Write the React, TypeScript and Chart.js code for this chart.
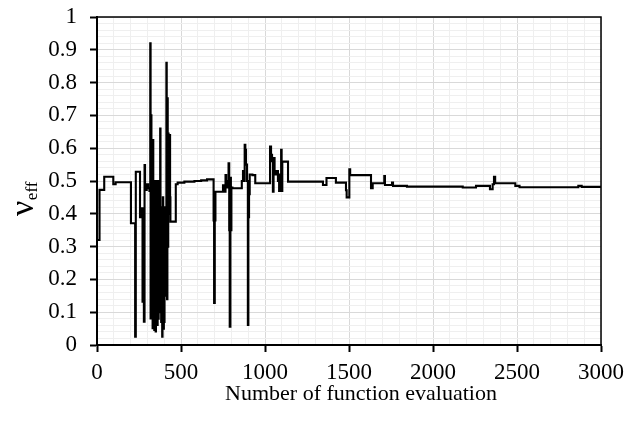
import React, { useEffect, useRef } from "react";
import { Chart, registerables } from "chart.js";

Chart.register(...registerables);

// Number of function evaluations (step start positions)
const evalX = [
  0, 15, 43, 97, 111, 202, 227, 231, 256, 268, 271, 275, 279, 283, 286, 296, 304, 312,
  317, 319, 322, 324, 326, 328, 331, 333, 335, 337, 339, 341, 343, 345, 347, 349, 351,
  353, 355, 357, 359, 361, 363, 365, 367, 369, 371, 373, 376, 378, 380, 382, 384, 386,
  388, 390, 392, 394, 396, 398, 400, 402, 404, 406, 408, 410, 413, 415, 417, 419, 421,
  424, 426, 428, 430, 433, 435, 437, 469, 480, 520, 580, 620, 655, 694, 697, 701, 705,
  750, 758, 765, 769, 775, 783, 787, 790, 794, 797, 800, 806, 862, 869, 875, 879, 883,
  887, 893, 898, 901, 905, 909, 925, 942, 1030, 1036, 1042, 1047, 1051, 1057, 1065,
  1077, 1084, 1089, 1096, 1099, 1103, 1137, 1345, 1366, 1422, 1482, 1486, 1502, 1507,
  1631, 1641, 1710, 1714, 1756, 1762, 1845, 2177, 2256, 2339, 2355, 2363, 2370, 2490,
  2515, 2865, 2885, 3000,
];

// Effective value (nu_eff) at each step
const nuEff = [
  0.32, 0.473, 0.513, 0.49, 0.496, 0.371, 0.025, 0.528, 0.39, 0.417, 0.132, 0.3, 0.071,
  0.549, 0.473, 0.49, 0.478, 0.47, 0.92, 0.081, 0.7, 0.3, 0.42, 0.09, 0.051, 0.625,
  0.35, 0.2, 0.5, 0.046, 0.4, 0.357, 0.12, 0.041, 0.45, 0.5, 0.18, 0.36, 0.061, 0.42,
  0.5, 0.08, 0.25, 0.48, 0.1, 0.4, 0.66, 0.2, 0.3, 0.07, 0.12, 0.42, 0.025, 0.3, 0.45,
  0.2, 0.05, 0.35, 0.07, 0.42, 0.3, 0.15, 0.4, 0.25, 0.86, 0.5, 0.14, 0.752, 0.3, 0.645,
  0.45, 0.62, 0.4, 0.64, 0.45, 0.376, 0.49, 0.495, 0.498, 0.5, 0.502, 0.505, 0.38,
  0.128, 0.38, 0.467, 0.487, 0.467, 0.518, 0.48, 0.5, 0.554, 0.35, 0.056, 0.51, 0.35,
  0.48, 0.478, 0.5, 0.53, 0.5, 0.61, 0.595, 0.55, 0.5, 0.061, 0.39, 0.46, 0.52, 0.518,
  0.493, 0.605, 0.58, 0.56, 0.467, 0.57, 0.52, 0.53, 0.5, 0.47, 0.52, 0.595, 0.47,
  0.559, 0.498, 0.488, 0.509, 0.495, 0.472, 0.45, 0.536, 0.518, 0.478, 0.493, 0.515,
  0.488, 0.495, 0.485, 0.483, 0.48, 0.485, 0.475, 0.49, 0.513, 0.493, 0.485, 0.481,
  0.485, 0.482, 0.482,
];

const xMajorTicks = [0, 500, 1000, 1500, 2000, 2500, 3000];
const yMajorTicks = [0, 0.1, 0.2, 0.3, 0.4, 0.5, 0.6, 0.7, 0.8, 0.9, 1];
const xTitle = "Number of function evaluation";
const yTitleMain = "ν";
const yTitleSub = "eff";

const FONT = '"Liberation Serif", "Times New Roman", serif';

const isMajorX = (v: number) => xMajorTicks.some((t) => Math.abs(t - v) < 1e-6);
const isMajorY = (v: number) => yMajorTicks.some((t) => Math.abs(t - v) < 1e-6);

const framePlugin = {
  id: "frameAndTitles",
  afterDraw(chart: any) {
    const { ctx, chartArea } = chart;
    const { left, right, top, bottom } = chartArea;
    ctx.save();
    ctx.strokeStyle = "#000";
    ctx.lineWidth = 1.5;
    ctx.beginPath();
    ctx.moveTo(left, top);
    ctx.lineTo(right, top);
    ctx.lineTo(right, bottom);
    ctx.stroke();

    ctx.fillStyle = "#000";
    ctx.font = `22px ${FONT}`;
    ctx.textAlign = "center";
    ctx.textBaseline = "alphabetic";
    ctx.fillText(xTitle, 361, 400);

    ctx.translate(33, 216);
    ctx.rotate(-Math.PI / 2);
    ctx.textAlign = "left";
    ctx.font = `34px ${FONT}`;
    ctx.fillText(yTitleMain, 0, 0);
    const w = ctx.measureText(yTitleMain).width;
    ctx.font = `17px ${FONT}`;
    ctx.fillText(yTitleSub, w + 0.5, 4);
    ctx.restore();
  },
};

export default function App() {
  const ref = useRef<HTMLCanvasElement | null>(null);

  useEffect(() => {
    if (!ref.current) return;
    const chart = new Chart(ref.current, {
      type: "line",
      data: {
        datasets: [
          {
            data: evalX.map((x, i) => ({ x, y: nuEff[i] })),
            borderColor: "#000",
            borderWidth: 2.1,
            pointRadius: 0,
            stepped: true,
            fill: false,
            tension: 0,
          },
        ],
      },
      options: {
        animation: false,
        responsive: false,
        devicePixelRatio: 1,
        layout: { padding: { top: 17, right: 25, left: 0, bottom: 0 } },
        plugins: { legend: { display: false }, tooltip: { enabled: false } },
        scales: {
          x: {
            type: "linear",
            min: 0,
            max: 3000,
            afterFit: (s: any) => {
              s.height = 76;
              s.paddingLeft = 0;
              s.paddingRight = 0;
            },
            border: { color: "#000", width: 2 },
            grid: {
              color: (c: any) => (isMajorX(c.tick.value) ? "#d9d9d9" : "#efefef"),
              lineWidth: 1,
              tickLength: 7,
              tickWidth: 2,
              tickColor: (c: any) => (isMajorX(c.tick.value) ? "#000" : "rgba(0,0,0,0)"),
            },
            ticks: {
              stepSize: 100,
              autoSkip: false,
              maxRotation: 0,
              minRotation: 0,
              color: "#000",
              padding: 7,
              font: { family: FONT, size: 23 },
              callback: (v: any) => (isMajorX(Number(v)) ? String(v) : ""),
            },
          },
          y: {
            type: "linear",
            min: 0,
            max: 1,
            afterFit: (s: any) => {
              s.width = 97;
              s.paddingTop = 0;
              s.paddingBottom = 0;
            },
            border: { color: "#000", width: 2 },
            grid: {
              color: (c: any) => (isMajorY(c.tick.value) ? "#d9d9d9" : "#efefef"),
              lineWidth: 1,
              tickLength: 7,
              tickWidth: 2,
              tickColor: (c: any) => (isMajorY(c.tick.value) ? "#000" : "rgba(0,0,0,0)"),
            },
            ticks: {
              stepSize: 0.02,
              autoSkip: false,
              color: "#000",
              padding: 13,
              font: { family: FONT, size: 23 },
              callback: (v: any) => {
                const n = Number(v);
                if (!isMajorY(n)) return "";
                return String(Math.round(n * 10) / 10);
              },
            },
          },
        },
      },
      plugins: [framePlugin],
    });
    return () => chart.destroy();
  }, []);

  return (
    <div style={{ position: "absolute", left: 0, top: 0, width: 626, height: 421 }}>
      <canvas ref={ref} width={626} height={421} />
    </div>
  );
}
